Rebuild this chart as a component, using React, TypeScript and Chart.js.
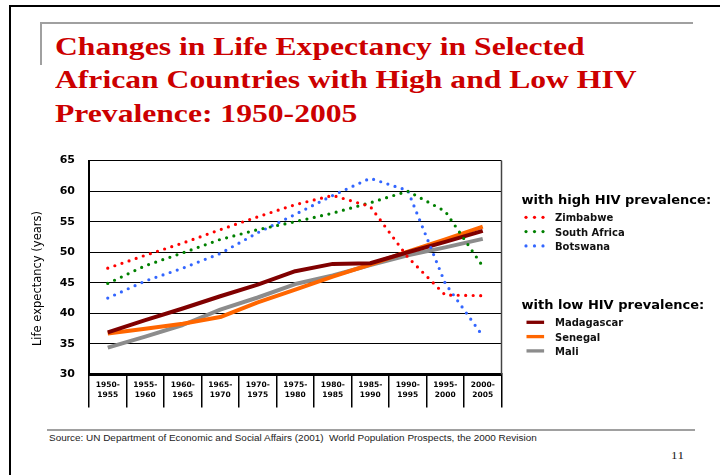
import React, { useEffect, useRef } from "react";
import { Chart, registerables } from "chart.js";

Chart.register(...registerables);

const periods = [
  "1950-1955", "1955-1960", "1960-1965", "1965-1970", "1970-1975", "1975-1980",
  "1980-1985", "1985-1990", "1990-1995", "1995-2000", "2000-2005",
];

const zimbabwe = [47.4, 49.5, 51.5, 53.7, 55.8, 57.8, 59.3, 57.5, 49.2, 43.0, 42.9];
const southAfrica = [44.9, 47.8, 49.9, 52.1, 53.7, 55.0, 56.4, 58.1, 60.0, 56.7, 47.7];
const botswana = [42.5, 45.3, 47.4, 49.8, 53.2, 56.2, 59.3, 62.1, 60.1, 44.9, 36.3];
const madagascar = [36.9, 38.9, 40.8, 42.8, 44.7, 46.9, 48.1, 48.2, 50.0, 51.7, 53.5];
const senegal = [36.7, 37.5, 38.3, 39.4, 41.8, 43.9, 46.0, 48.0, 50.1, 52.1, 54.2];
const mali = [34.4, 36.2, 38.1, 40.6, 42.6, 44.8, 46.2, 47.9, 49.5, 50.8, 52.2];

const highNames = ["Zimbabwe", "South Africa", "Botswana"];
const lowNames = ["Madagascar", "Senegal", "Mali"];
const highColors = ["#ff0000", "#008000", "#3366ff"];
const lowColors = ["#800000", "#ff6600", "#8c8c8c"];
const groupTitles = ["with high HIV prevalence:", "with low HIV prevalence:"];

const yTicks = [30, 35, 40, 45, 50, 55, 60, 65];
const yAxisTitle = "Life expectancy (years)";

const titleLines = [
  "Changes in Life Expectancy in Selected",
  "African Countries with High and Low HIV",
  "Prevalence: 1950-2005",
];
const sourceText =
  "Source: UN Department of Economic and Social Affairs (2001)  World Population Prospects, the 2000 Revision";
const pageNumber = "11";

const decorPlugin = {
  id: "decor",
  afterDraw(chart: any) {
    const { ctx, chartArea: ca } = chart;
    ctx.save();
    // right frame of plot
    ctx.strokeStyle = "#444";
    ctx.lineWidth = 1.5;
    ctx.beginPath();
    ctx.moveTo(ca.right, ca.top);
    ctx.lineTo(ca.right, ca.bottom);
    ctx.stroke();

    // y axis title
    ctx.save();
    ctx.translate(ca.left - 50.5, (ca.top + ca.bottom) / 2 + 11);
    ctx.rotate(-Math.PI / 2);
    ctx.font = "11.5px 'DejaVu Sans'";
    ctx.fillStyle = "#000";
    ctx.textAlign = "center";
    ctx.textBaseline = "middle";
    ctx.fillText(yAxisTitle, 0, 0);
    ctx.restore();

    // grouped legend
    const lx = ca.right + 20;
    const headerY = [ca.top + 43.7, ca.top + 148.7];
    const counters = [0, 0];
    groupTitles.forEach((t, g) => {
      ctx.font = "bold 13px 'DejaVu Sans'";
      ctx.fillStyle = "#000";
      ctx.textAlign = "left";
      ctx.textBaseline = "alphabetic";
      ctx.fillText(t, lx, headerY[g]);
    });
    chart.data.datasets.forEach((ds: any) => {
      const g = ds.group;
      const k = counters[g]++;
      const cy = headerY[g] + 14.5 + 14.3 * k;
      ctx.fillStyle = ds.borderColor;
      if (ds.dotted) {
        [4.5, 13, 21.5].forEach((dx) => {
          ctx.beginPath();
          ctx.arc(lx + dx, cy - 1.5, 1.6, 0, Math.PI * 2);
          ctx.fill();
        });
      } else {
        ctx.fillRect(lx + 5, cy - 1.5 - 1.65, 17.6, 3.3);
      }
      ctx.font = "bold 10px 'DejaVu Sans'";
      ctx.fillStyle = "#111";
      ctx.textBaseline = "middle";
      ctx.fillText(ds.label, lx + 33.5, cy);
    });
    ctx.restore();
  },
};

export default function App() {
  const ref = useRef<HTMLCanvasElement | null>(null);

  useEffect(() => {
    if (!ref.current) return;
    const labels = periods.map((p) => {
      const [a, b] = p.split("-");
      return [a + "-", b];
    });
    const datasets: any[] = [
      ...[zimbabwe, southAfrica, botswana].map((d, i) => ({
        label: highNames[i],
        data: d,
        borderColor: highColors[i],
        backgroundColor: highColors[i],
        borderWidth: 3.2,
        borderDash: [0, 7.5],
        borderCapStyle: "round",
        pointRadius: 0,
        fill: false,
        tension: 0,
        group: 0,
        dotted: true,
      })),
      ...[madagascar, senegal, mali].map((d, i) => ({
        label: lowNames[i],
        data: d,
        borderColor: lowColors[i],
        backgroundColor: lowColors[i],
        borderWidth: 4,
        borderCapStyle: "butt",
        borderJoinStyle: "round",
        pointRadius: 0,
        fill: false,
        tension: 0,
        group: 1,
        dotted: false,
      })),
    ];

    const chart = new Chart(ref.current, {
      type: "line",
      data: { labels, datasets },
      options: {
        responsive: false,
        animation: false,
        devicePixelRatio: 1,
        layout: { padding: { top: 18, right: 218.5, bottom: 12.5, left: 0 } },
        plugins: {
          legend: { display: false },
          title: { display: false },
          tooltip: { enabled: false },
        },
        scales: {
          x: {
            type: "category",
            offset: true,
            grid: {
              display: true,
              offset: true,
              drawOnChartArea: false,
              drawTicks: true,
              tickLength: 33,
              color: "#000",
              lineWidth: 1.5,
            },
            border: { display: true, color: "#000", width: 3 },
            ticks: {
              padding: -27,
              color: "#000",
              font: { family: "DejaVu Sans", size: 7.5, weight: "bold", lineHeight: 1.33 },
              maxRotation: 0,
              minRotation: 0,
              autoSkip: false,
            },
            afterFit: (s: any) => {
              s.height = 33;
            },
          },
          y: {
            min: yTicks[0],
            max: yTicks[yTicks.length - 1],
            ticks: {
              stepSize: yTicks[1] - yTicks[0],
              padding: 14,
              color: "#000",
              font: { family: "DejaVu Sans", size: 11, weight: "bold" },
            },
            grid: { color: "#000", lineWidth: 1, drawTicks: false },
            border: { display: true, color: "#000", width: 2 },
            afterFit: (s: any) => {
              s.width = 89;
            },
          },
        },
      } as any,
      plugins: [decorPlugin],
    });
    return () => chart.destroy();
  }, []);

  return (
    <div
      style={{
        position: "absolute",
        left: 0,
        top: 0,
        width: 720,
        height: 475,
        overflow: "hidden",
        background: "#fff",
      }}
    >
      <div
        style={{
          position: "absolute",
          left: 9,
          top: 5,
          width: 900,
          height: 700,
          borderTop: "2px solid #000",
          borderLeft: "2px solid #000",
        }}
      />
      <div
        style={{
          position: "absolute",
          left: 40,
          top: 22,
          width: 651,
          height: 41,
          borderTop: "2px solid #a0a0a0",
          borderLeft: "2px solid #a0a0a0",
        }}
      />
      <div
        style={{
          position: "absolute",
          left: 55,
          top: 30,
          fontFamily: "'Liberation Serif', serif",
          fontWeight: "bold",
          fontSize: 25,
          lineHeight: "33.3px",
          color: "#cc0000",
          transform: "scaleX(1.265)",
          transformOrigin: "0 0",
          whiteSpace: "nowrap",
        }}
      >
        {titleLines.map((l, i) => (
          <div key={i}>{l}</div>
        ))}
      </div>
      <canvas
        ref={ref}
        width={720}
        height={280}
        style={{ position: "absolute", left: 0, top: 140, width: 720, height: 280 }}
      />
      <div
        style={{
          position: "absolute",
          left: 47,
          top: 429,
          width: 648,
          height: 2,
          background: "#a0a0a0",
        }}
      />
      <div
        style={{
          position: "absolute",
          left: 49,
          top: 433,
          fontFamily: "'Liberation Sans', Arial, sans-serif",
          fontSize: 8.5,
          lineHeight: "10px",
          color: "#222",
          whiteSpace: "pre",
          transform: "scaleX(1.17)",
          transformOrigin: "0 0",
        }}
      >
        {sourceText}
      </div>
      <div
        style={{
          position: "absolute",
          left: 671,
          top: 450,
          fontFamily: "'Liberation Serif', serif",
          fontSize: 10,
          lineHeight: "12px",
          letterSpacing: 0.3,
          color: "#222",
          transform: "scaleX(1.3)",
          transformOrigin: "0 0",
        }}
      >
        {pageNumber}
      </div>
    </div>
  );
}
